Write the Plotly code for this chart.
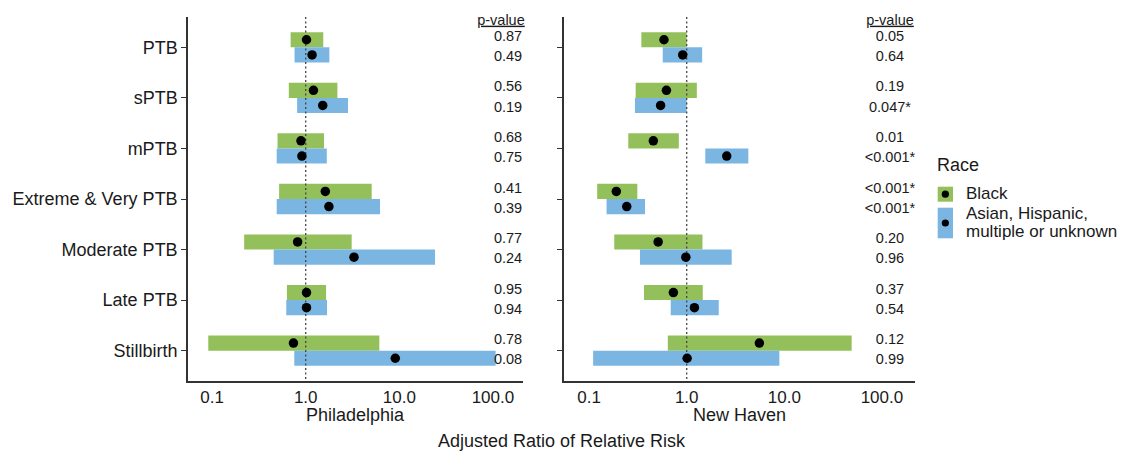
import plotly.graph_objects as go

categories = ["PTB", "sPTB", "mPTB", "Extreme & Very PTB", "Moderate PTB", "Late PTB", "Stillbirth"]

# Philadelphia
phl_black_est = [1.02, 1.21, 0.89, 1.62, 0.82, 1.02, 0.74]
phl_black_lo = [0.69, 0.66, 0.50, 0.52, 0.22, 0.63, 0.091]
phl_black_hi = [1.54, 2.18, 1.57, 5.07, 3.10, 1.65, 6.12]
phl_other_est = [1.17, 1.52, 0.91, 1.77, 3.28, 1.02, 9.06]
phl_other_lo = [0.76, 0.81, 0.49, 0.49, 0.455, 0.62, 0.755]
phl_other_hi = [1.79, 2.83, 1.68, 6.22, 24.1, 1.69, 107.0]
phl_black_p = ["0.87", "0.56", "0.68", "0.41", "0.77", "0.95", "0.78"]
phl_other_p = ["0.49", "0.19", "0.75", "0.39", "0.24", "0.94", "0.08"]

# New Haven
nh_black_est = [0.585, 0.62, 0.455, 0.19, 0.51, 0.73, 5.55]
nh_black_lo = [0.343, 0.30, 0.252, 0.121, 0.181, 0.365, 0.64]
nh_black_hi = [1.0, 1.27, 0.83, 0.312, 1.45, 1.46, 49.0]
nh_other_est = [0.91, 0.54, 2.57, 0.243, 0.98, 1.20, 1.01]
nh_other_lo = [0.568, 0.295, 1.55, 0.151, 0.332, 0.686, 0.11]
nh_other_hi = [1.44, 1.0, 4.28, 0.374, 2.89, 2.13, 8.9]
nh_black_p = ["0.05", "0.19", "0.01", "<0.001*", "0.20", "0.37", "0.12"]
nh_other_p = ["0.64", "0.047*", "<0.001*", "<0.001*", "0.96", "0.54", "0.99"]

tick_vals = [0.1, 1, 10, 100]
tick_text = ["0.1", "1.0", "10.0", "100.0"]

GREEN = "#93C05A"
BLUE = "#7BB6E3"
PAGE_OFF = 8  # default body margin of the html page
W, H = 1130 - PAGE_OFF, 451 - PAGE_OFF
FONT = "Liberation Sans, Arial, sans-serif"
TXT = "#1a1a1a"

pos = list(range(1, len(categories) + 1))
off = 0.15
bar_w = 0.30

fig = go.Figure()

panels = [
    ("x", "y", phl_black_est, phl_black_lo, phl_black_hi, phl_other_est, phl_other_lo, phl_other_hi,
     phl_black_p, phl_other_p, 145, 122),
    ("x2", "y2", nh_black_est, nh_black_lo, nh_black_hi, nh_other_est, nh_other_lo, nh_other_hi,
     nh_black_p, nh_other_p, 121, 121),
]

for (xa, ya, be, bl, bh, oe, ol, oh, bp, op, pxv, hxv) in panels:
    yb = [p - off for p in pos]
    yo = [p + off for p in pos]
    fig.add_trace(go.Bar(orientation="h", y=yb, base=bl, x=[h - l for h, l in zip(bh, bl)],
                         width=bar_w, marker=dict(color=GREEN, line=dict(width=0)),
                         xaxis=xa, yaxis=ya, showlegend=False))
    fig.add_trace(go.Bar(orientation="h", y=yo, base=ol, x=[h - l for h, l in zip(oh, ol)],
                         width=bar_w, marker=dict(color=BLUE, line=dict(width=0)),
                         xaxis=xa, yaxis=ya, showlegend=False))
    fig.add_trace(go.Scatter(x=[1, 1], y=[0.4, 7.6], mode="lines",
                             line=dict(color="#444444", width=1.3, dash="2px,2.5px"),
                             xaxis=xa, yaxis=ya, showlegend=False))
    fig.add_trace(go.Scatter(x=be + oe, y=yb + yo, mode="markers",
                             marker=dict(color="black", size=9.5),
                             xaxis=xa, yaxis=ya, showlegend=False))
    fig.add_trace(go.Scatter(x=[pxv] * len(pos) * 2,
                             y=[p - 0.2 for p in pos] + [p + 0.2 for p in pos],
                             text=bp + op, mode="text", textposition="middle center",
                             textfont=dict(size=14.5, color=TXT, family=FONT), cliponaxis=False,
                             xaxis=xa, yaxis=ya, showlegend=False))
    fig.add_trace(go.Scatter(x=[hxv], y=[0.48], text=["<u>p-value</u>"], mode="text",
                             textposition="middle center", cliponaxis=False,
                             textfont=dict(size=14.5, color=TXT, family=FONT),
                             xaxis=xa, yaxis=ya, showlegend=False))


def px(xp):
    return (xp - PAGE_OFF) / W


def py(yp):
    return 1 - (yp - PAGE_OFF) / H


ydom = [py(381), py(17)]
axis_common = dict(showline=True, linecolor="#333333", linewidth=1.5, showgrid=False,
                   zeroline=False, mirror=False)

fig.update_layout(
    width=W, height=H,
    margin=dict(l=0, r=0, t=0, b=0),
    paper_bgcolor="white", plot_bgcolor="white",
    barmode="overlay",
    font=dict(family=FONT, color=TXT),
    xaxis=dict(domain=[px(188), px(523)], type="log", range=[-1.2575, 2.3216],
               tickvals=tick_vals, ticktext=tick_text, ticks="",
               tickfont=dict(size=17, color=TXT), anchor="y", **axis_common),
    yaxis=dict(domain=ydom, range=[7.6, 0.4], tickvals=pos, ticktext=categories,
               ticks="outside", ticklen=5, tickcolor="#333333", tickwidth=1.2,
               tickfont=dict(size=18, color=TXT), anchor="x", **axis_common),
    xaxis2=dict(domain=[px(564), px(915)], type="log", range=[-1.2572, 2.339],
                tickvals=tick_vals, ticktext=tick_text, ticks="",
                tickfont=dict(size=17, color=TXT), anchor="y2", **axis_common),
    yaxis2=dict(domain=ydom, range=[7.6, 0.4], tickvals=pos, showticklabels=False,
                ticks="outside", ticklen=5, tickcolor="#333333", tickwidth=1.2,
                anchor="x2", **axis_common),
)

annots = [
    dict(text="Philadelphia", x=px(355.5), y=py(415), size=18),
    dict(text="New Haven", x=px(739.5), y=py(415), size=18),
    dict(text="Adjusted Ratio of Relative Risk", x=px(562), y=py(441), size=18),
]
for a in annots:
    fig.add_annotation(text=a["text"], x=a["x"], y=a["y"], xref="paper", yref="paper",
                       showarrow=False, xanchor="center", yanchor="middle",
                       font=dict(size=a["size"], color=TXT, family=FONT))

# legend (drawn by hand: coloured key with a black dot)
fig.add_annotation(text="Race", x=px(935), y=py(165), xref="paper", yref="paper", showarrow=False,
                   xanchor="left", yanchor="middle", font=dict(size=18, color=TXT, family=FONT))
legend_labels = [("Black", 193.5), ("Asian, Hispanic,", 213.5), ("multiple or unknown", 231.5)]
for t, yc in legend_labels:
    fig.add_annotation(text=t, x=px(964), y=py(yc), xref="paper", yref="paper", showarrow=False,
                       xanchor="left", yanchor="middle", font=dict(size=17, color=TXT, family=FONT))

keys = [(GREEN, 186.7, 201.7), (BLUE, 207.7, 238.3)]
for col, y0, y1 in keys:
    fig.add_shape(type="rect", xref="paper", yref="paper", x0=px(937.7), x1=px(953),
                  y0=py(y1), y1=py(y0), fillcolor=col, line=dict(width=0))
    yc = (y0 + y1) / 2
    r = 3.6
    fig.add_shape(type="circle", xref="paper", yref="paper", x0=px(945.35 - r), x1=px(945.35 + r),
                  y0=py(yc + r), y1=py(yc - r), fillcolor="black", line=dict(width=0))

fig.write_html("out.html")
